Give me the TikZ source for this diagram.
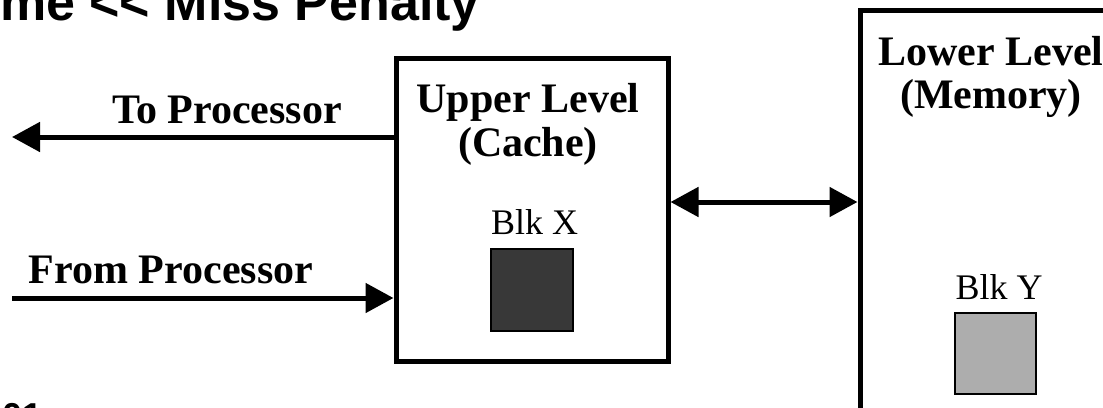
\documentclass[tikz,border=0pt]{standalone}
\usepackage{fontspec}
\setmainfont{Liberation Serif}
\newfontfamily\titlefont{Liberation Sans}
\usetikzlibrary{arrows.meta}
\definecolor{blkdark}{HTML}{383838}
\definecolor{blklight}{HTML}{ADADAD}
\begin{document}
\begin{tikzpicture}[x=1pt,y=-1pt,
  levelbox/.style={draw=black, line width=5pt, rectangle, inner sep=0pt},
  blkbox/.style={draw=black, line width=1.5pt, rectangle, inner sep=0pt, minimum size=#1},
  lbl/.style={font=\fontsize{42}{44}\selectfont\bfseries, inner sep=0pt, anchor=base},
  blklbl/.style={font=\fontsize{36}{40}\selectfont, inner sep=0pt, anchor=base},
  tip/.style={Triangle[length=28pt,width=29pt]},
  conn/.style={line width=5pt, -{Triangle[length=28pt,width=29pt]}},
  biconn/.style={line width=5pt, {Triangle[length=28pt,width=29pt]}-{Triangle[length=28pt,width=29pt]}}]
\useasboundingbox (0,0) rectangle (1103,407);
\begin{scope}
\clip (0,0) rectangle (1103,407);
% title (cut off at the left edge)
\node[font=\titlefont\bfseries\fontsize{52}{60}\selectfont, anchor=base east, inner sep=0pt] (title) at (480,20) {Hit Time <\kern0pt< Miss Penalty};
\node[font=\titlefont\bfseries\fontsize{36}{40}\selectfont, anchor=base west, inner sep=0pt] (pagenum) at (2,428) {01};
% boxes
\node[levelbox, minimum width=272pt, minimum height=303pt] (upper) at (532,209.5) {};
\node[levelbox, minimum width=300pt, minimum height=500pt] (lower) at (1010,260) {};
% labels in boxes
\node[lbl] (upl1) at (528,112) {Upper Level};
\node[lbl] (upl2) at (528,156) {(Cache)};
\node[lbl] (lol1) at (991,65) {Lower Level};
\node[lbl] (lol2) at (991,108) {(Memory)};
% blocks
\node[blklbl] (blkxl) at (534.5,234) {Blk X};
\node[blkbox=82pt, fill=blkdark] (blkx) at (532,290) {};
\node[blklbl] (blkyl) at (999,299) {Blk Y};
\node[blkbox=81pt, fill=blklight] (blky) at (995.5,353.5) {};
% processor arrows
\coordinate (toP) at (12,137);
\coordinate (fromP) at (12,298);
\draw[conn] (toP -| upper.west) -- (toP);
\draw[conn] (fromP) -- (fromP -| upper.west);
\node[lbl] (tolbl) at (227,123) {To Processor};
\node[lbl] (fromlbl) at (171,283) {From Processor};
% link between levels
\coordinate (mid) at (760,202);
\draw[biconn] (mid -| upper.east) -- (mid -| lower.west);
\end{scope}
\end{tikzpicture}
\end{document}
